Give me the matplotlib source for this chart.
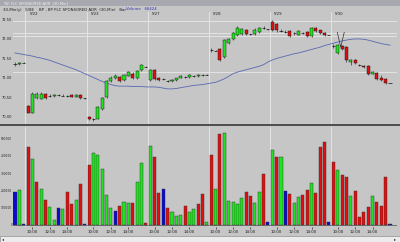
import numpy as np
import matplotlib
matplotlib.use("Agg")
import matplotlib.pyplot as plt

# 30-min bars, bar index 0..86 (3 bars of the day before, then 6 sessions of 14 bars)
opens = [71.36, 71.35, 71.38,
         70.27, 70.10, 70.48, 70.46, 70.57, 70.53, 70.52, 70.55, 70.54, 70.53, 70.55, 70.51, 70.56, 70.47,
         70.00, 69.93, 69.95, 70.20, 70.50, 70.90, 71.00, 71.02, 70.94, 71.05, 71.10, 70.98, 71.19, 71.28,
         70.94, 71.19, 70.99, 70.96, 70.90, 70.91, 70.94, 71.00, 71.02, 71.02, 71.04, 71.03, 71.06, 71.07,
         71.70, 71.69, 71.73, 71.52, 71.88, 71.98, 72.09, 72.12, 72.22, 72.12, 72.12, 72.17, 72.27, 72.24,
         72.42, 72.38, 72.20, 72.18, 72.20, 72.14, 72.10, 72.14, 72.17, 72.06, 72.27, 72.21, 72.15, 72.09,
         71.80, 71.63, 71.80, 71.78, 71.40, 71.45, 71.32, 71.30, 71.30, 71.10, 71.12, 71.00, 70.96, 70.86]
closes = [71.36, 71.37, 71.38,
          70.10, 70.57, 70.58, 70.59, 70.47, 70.53, 70.55, 70.55, 70.54, 70.53, 70.51, 70.56, 70.48, 70.47,
          69.93, 69.93, 70.25, 70.48, 70.90, 71.00, 71.05, 70.90, 71.06, 71.13, 70.98, 71.17, 71.32, 71.28,
          71.19, 70.96, 70.93, 70.96, 70.90, 70.94, 70.98, 71.05, 71.02, 71.06, 71.04, 71.07, 71.06, 71.07,
          71.70, 71.69, 71.45, 71.96, 71.99, 72.14, 72.27, 72.24, 72.12, 72.12, 72.23, 72.27, 72.27, 72.24,
          72.22, 72.22, 72.20, 72.18, 72.07, 72.14, 72.19, 72.14, 72.07, 72.27, 72.19, 72.13, 72.09, 72.09,
          71.80, 71.83, 71.73, 71.45, 71.45, 71.38, 71.32, 71.26, 71.09, 71.14, 70.96, 70.94, 70.86, 70.86]
highs = [71.40, 71.40, 71.39,
         70.30, 70.62, 70.62, 70.62, 70.60, 70.57, 70.58, 70.59, 70.58, 70.56, 70.57, 70.58, 70.58, 70.48,
         70.02, 69.97, 70.27, 70.50, 70.93, 71.05, 71.08, 71.05, 71.09, 71.16, 71.13, 71.20, 71.34, 71.29,
         71.22, 71.21, 71.01, 71.00, 70.94, 70.96, 71.00, 71.07, 71.05, 71.08, 71.07, 71.09, 71.09, 71.08,
         71.75, 71.70, 71.76, 71.98, 72.02, 72.17, 72.33, 72.27, 72.25, 72.15, 72.26, 72.30, 72.31, 72.25,
         72.47, 72.40, 72.24, 72.22, 72.22, 72.17, 72.21, 72.17, 72.19, 72.29, 72.30, 72.23, 72.17, 72.10,
         71.85, 71.86, 71.83, 71.80, 71.47, 71.47, 71.35, 71.32, 71.32, 71.17, 71.14, 71.07, 70.98, 70.87]
lows = [71.30, 71.33, 71.37,
        70.08, 70.08, 70.45, 70.44, 70.45, 70.50, 70.50, 70.52, 70.52, 70.50, 70.49, 70.49, 70.46, 70.46,
        69.91, 69.89, 69.93, 70.18, 70.48, 70.88, 70.97, 70.88, 70.92, 71.03, 70.96, 70.96, 71.17, 71.27,
        70.92, 70.94, 70.90, 70.93, 70.88, 70.89, 70.92, 70.98, 71.00, 71.00, 71.02, 71.01, 71.03, 71.06,
        71.66, 71.68, 71.42, 71.50, 71.86, 71.96, 72.07, 72.10, 72.10, 72.08, 72.10, 72.15, 72.24, 72.23,
        72.20, 72.18, 72.16, 72.15, 72.05, 72.10, 72.08, 72.11, 72.05, 72.04, 72.17, 72.11, 72.07, 72.08,
        71.75, 71.60, 71.70, 71.40, 71.33, 71.36, 71.29, 71.24, 71.07, 71.08, 70.94, 70.92, 70.84, 70.85]
ma_line = [71.63, 71.61, 71.59, 71.57, 71.55, 71.52, 71.50,
           71.47, 71.44, 71.40, 71.36, 71.32, 71.28, 71.24, 71.20,
           71.15, 71.10, 71.05, 71.00, 70.95, 70.90, 70.86, 70.82,
           70.79, 70.78, 70.78, 70.78, 70.77, 70.77, 70.77, 70.76, 70.76, 70.76, 70.75, 70.73, 70.71,
           70.71, 70.72, 70.74, 70.76, 70.78, 70.80, 70.81, 70.82, 70.84,
           70.86, 70.88, 70.92, 70.97, 71.03, 71.10, 71.14, 71.17, 71.20, 71.23, 71.26, 71.29, 71.33, 71.40,
           71.45, 71.49, 71.52, 71.55, 71.58, 71.61, 71.63, 71.66, 71.69, 71.72, 71.75, 71.78, 71.82, 71.85,
           71.88, 71.91, 71.94, 71.96, 71.98, 71.99, 71.99, 71.98, 71.96, 71.93, 71.90, 71.87, 71.85, 71.83]
volumes = [192000, 200000, 5000,
           449000, 381000, 247000, 206000, 145000, 104000, 31000, 98000, 92000, 189000, 120000, 146000, 237000, 8000,
           345000, 418000, 405000, 322000, 173000, 100000, 81000, 112000, 131000, 129000, 125000, 247000, 356000, 10000,
           457000, 391000, 183000, 206000, 100000, 73000, 54000, 58000, 112000, 73000, 92000, 120000, 179000, 15000,
           405000, 206000, 524000, 530000, 139000, 135000, 120000, 158000, 193000, 168000, 129000, 193000, 295000, 16000,
           434000, 395000, 391000, 197000, 177000, 125000, 160000, 173000, 200000, 241000, 183000, 449000, 478000, 16000,
           362000, 318000, 287000, 276000, 168000, 198000, 48000, 73000, 102000, 169000, 135000, 112000, 276000, 6000]
# u = up tick (green), d = down tick (red), n = unchanged (blue), one per session
vol_dir = ["nun",
           "dududuunuddudn",
           "duuuuunduuduud",
           "uddnduuuduuddu",
           "duduuuuudduudn",
           "udunduuddudddn",
           "dudduddddudddn"]
day_labels = ["5/22", "5/23", "5/27", "5/28", "5/29", "5/30"]
day_starts = [3, 17, 31, 45, 59, 73]
time_labels = ["10:00", "12:00", "14:00"]
time_offsets = [1, 5, 9]
price_ticks = [70.00, 70.50, 71.00, 71.50, 72.00, 72.50]
vol_ticks = [0, 100000, 200000, 300000, 400000, 500000]
level_lines = [72.45, 72.14, 72.06, 71.13]

BG = "#c6c6c6"
UP = "#22e022"
DN = "#e01010"
NC = "#0a0ad0"
W, H = 400, 242

fig = plt.figure(figsize=(W / 100, H / 100), dpi=100, facecolor=BG)


def box(x0, y0, x1, y1):
    return [x0 / W, 1 - y1 / H, (x1 - x0) / W, (y1 - y0) / H]


n = len(closes)
idx = np.arange(n)
xlim = (-0.46, 87.6)

# window title + header
fig.patches.append(plt.Rectangle((0, 1 - 6 / H), 1, 6 / H, transform=fig.transFigure,
                                 facecolor="#a8a8b0", edgecolor="none"))
fig.text(3 / W, 1 - 3 / H, "TW: FLC SPONSORED ADR  [30-Min]", fontsize=2.6, color="#f0f0f0", va="center")
fig.text(3 / W, 1 - 9.5 / H, "30-Min(y)   5/8E    BP - BP PLC SPONSORED ADR  (30-Min)   Bar",
         fontsize=2.8, color="#202020", va="center")
fig.text(126 / W, 1 - 9.5 / H, "Volume   66424", fontsize=2.8, color="#3030c0", va="center")

# price panel
ax = fig.add_axes(box(13, 12, 397, 124))
ax.set_facecolor(BG)
ax.set_xlim(*xlim)
ax.set_ylim(69.81, 72.68)
for lv in level_lines:
    ax.axhline(lv, color="#e8e8e8", lw=0.6, zorder=1)
for d in day_starts:
    ax.axvline(d - 0.6, color="#e8e8e8", lw=0.6, zorder=1)
for d, lab in zip(day_starts, day_labels):
    ax.text(d + 0.3, 72.62, lab, fontsize=2.8, color="#202020", va="center")
ax.plot(idx, ma_line, color="#5868b0", lw=0.6, zorder=2)
bw = 0.7
for i in range(n):
    o, c, h, l = opens[i], closes[i], highs[i], lows[i]
    ax.vlines(i, l, h, color="#101010", lw=0.4, zorder=3)
    if c == o:
        ax.hlines(c, i - bw / 2, i + bw / 2, color="#101010", lw=0.5, zorder=4)
    else:
        col = UP if c > o else DN
        ax.bar(i, abs(c - o), bottom=min(o, c), width=bw, color=col,
               edgecolor="#101010", linewidth=0.3, zorder=4)
# "V" marker over the 5/30 open
ax.plot([73.9, 74.7, 75.5], [72.16, 71.78, 72.16], color="#303030", lw=0.5, zorder=5)
ax.set_yticks(price_ticks)
ax.set_yticklabels([f"{p:.2f}" for p in price_ticks], fontsize=2.6, color="#202020")
ax.tick_params(axis="y", length=0, pad=0.8)
ax.set_xticks([])
for s in ax.spines.values():
    s.set_visible(False)

# divider between panels
fig.patches.append(plt.Rectangle((0, 1 - 126 / H), 1, 2 / H, transform=fig.transFigure,
                                 facecolor="#505050", edgecolor="none"))

# volume panel
av = fig.add_axes(box(13, 127, 397, 227))
av.set_facecolor(BG)
av.set_xlim(*xlim)
av.set_ylim(-12000, 566000)
for d in day_starts:
    av.axvline(d - 0.6, color="#e8e8e8", lw=0.6, zorder=1)
cmap = {"u": UP, "d": DN, "n": NC}
bar_cols = [cmap[c] for c in "".join(vol_dir)]
av.bar(idx, volumes, width=bw, color=bar_cols, edgecolor="#303030", linewidth=0.3, zorder=3)
av.axhline(0, color="#303030", lw=0.4, zorder=2)
av.set_yticks(vol_ticks)
av.set_yticklabels([str(v) for v in vol_ticks], fontsize=2.1, color="#202020")
av.tick_params(axis="y", length=0, pad=0.5)
xt, xl = [], []
for d in day_starts:
    for off, lab in zip(time_offsets, time_labels):
        xt.append(d + off)
        xl.append(lab)
av.set_xticks(xt)
av.set_xticklabels(xl, fontsize=2.8, color="#202020")
av.tick_params(axis="x", length=1.5, width=0.4, pad=0.8)
for s in av.spines.values():
    s.set_visible(False)

# scroll bar
fig.patches.append(plt.Rectangle((0, 0), 1, 6 / H, transform=fig.transFigure,
                                 facecolor="#ececec", edgecolor="#808080", linewidth=0.4))
fig.text(2 / W, 3 / H, "◂", fontsize=3, color="#202020", va="center")
fig.text(394 / W, 3 / H, "▸", fontsize=3, color="#202020", va="center")

fig.savefig("out.png", dpi=100, facecolor=BG)
